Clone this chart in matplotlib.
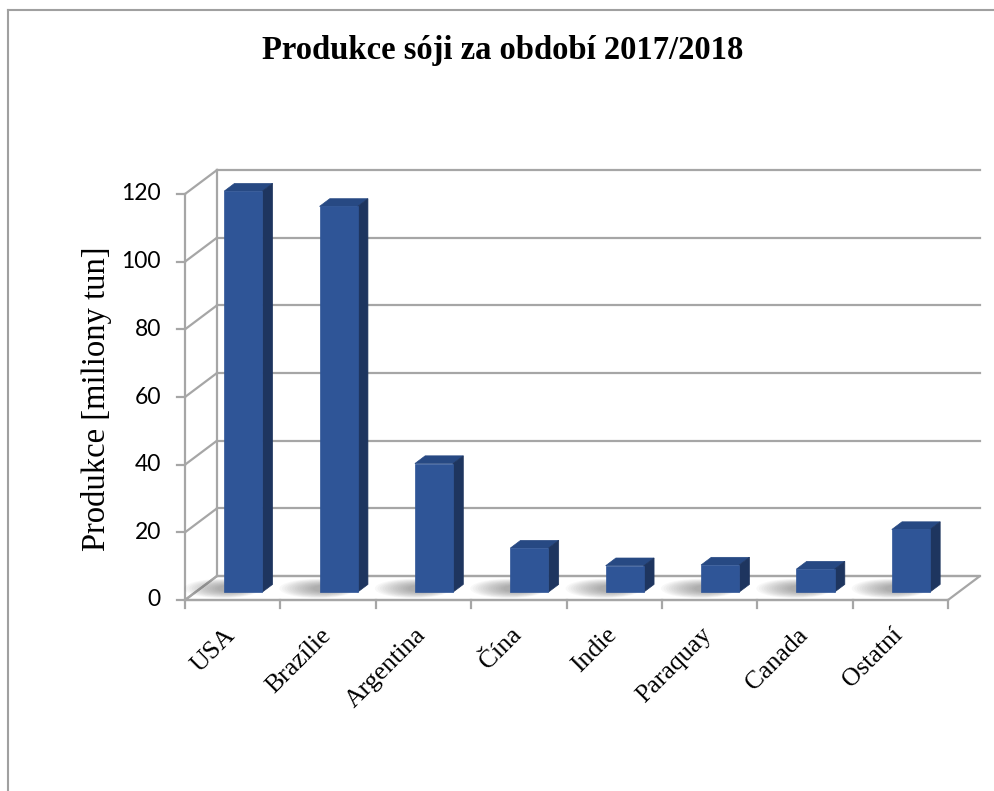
import matplotlib
matplotlib.use("Agg")
import matplotlib.pyplot as plt
from matplotlib.patches import Polygon, Ellipse
from matplotlib.lines import Line2D
import matplotlib.transforms as mtransforms

# ---- data ----
categories = ["USA", "Brazílie", "Argentina", "Čína", "Indie", "Paraquay", "Canada", "Ostatní"]
values = [118.5, 114.0, 38.0, 13.0, 7.8, 8.0, 6.8, 18.5]
yticks = [0, 20, 40, 60, 80, 100, 120]
title = "Produkce sóji za období 2017/2018"
ylabel = "Produkce [miliony tun]"

# ---- style ----
W, H = 994, 791
fig = plt.figure(figsize=(W / 100, H / 100), dpi=100)
fig.patch.set_facecolor("white")

ax_left, ax_right, ax_bottom, ax_top = 185, 948, 600, 194
ax = fig.add_axes([ax_left / W, 1 - ax_bottom / H, (ax_right - ax_left) / W, (ax_bottom - ax_top) / H])
n = len(categories)
ax.set_xlim(-0.5, n - 0.5)
ax.set_ylim(0, 120)
ax.axis("off")

px_per_cat = (ax_right - ax_left) / n
px_per_val = (ax_bottom - ax_top) / 120.0
DX = 32 / px_per_cat      # depth offset in category units
DY = 24 / px_per_val      # depth offset in value units

grid_c = "#a6a6a6"
lw_grid = 1.6
x0, x1 = -0.5, n - 0.5

# floor
floor = Polygon([(x0, 0), (x1, 0), (x1 + DX, DY), (x0 + DX, DY)], closed=True,
                facecolor="white", edgecolor=grid_c, lw=lw_grid, clip_on=False, zorder=1)
ax.add_patch(floor)

# back wall gridlines + left wall diagonals
for v in yticks:
    ax.add_line(Line2D([x0 + DX, x1 + DX], [v + DY, v + DY], color=grid_c, lw=lw_grid,
                       clip_on=False, zorder=2))
    ax.add_line(Line2D([x0, x0 + DX], [v, v + DY], color=grid_c, lw=lw_grid,
                       clip_on=False, zorder=2))
# back wall left edge
ax.add_line(Line2D([x0 + DX, x0 + DX], [DY, 120 + DY], color=grid_c, lw=lw_grid, clip_on=False, zorder=2))
# front left axis
ax.add_line(Line2D([x0, x0], [0, 120], color=grid_c, lw=lw_grid, clip_on=False, zorder=3))
# front bottom axis
ax.add_line(Line2D([x0, x1], [0, 0], color=grid_c, lw=lw_grid, clip_on=False, zorder=3))

# tick marks
tick_len_y = 8 / px_per_val
for i in range(n + 1):
    xb = x0 + i
    ax.add_line(Line2D([xb, xb], [0, -tick_len_y], color=grid_c, lw=lw_grid, clip_on=False, zorder=3))
tick_len_x = 8 / px_per_cat
for v in yticks:
    ax.add_line(Line2D([x0 - tick_len_x, x0], [v, v], color=grid_c, lw=lw_grid, clip_on=False, zorder=3))
    ax.text(x0 - 24 / px_per_cat, v, str(v), ha="right", va="center", fontsize=16.5,
            family="Lato", color="black")

# bars
d0, d1 = 0.33, 0.65
bw = 0.40
front_c = "#2f5597"
side_c = "#1e355f"
top_c = "#274983"
for i, v in enumerate(values):
    xl = i - bw / 2 + d0 * DX
    xr = xl + bw
    base = d0 * DY
    top = base + v
    dd = (d1 - d0) * DX
    dyd = (d1 - d0) * DY
    # shadow on floor (soft), spreading to the left of the bar
    for k in range(14):
        f = 1 - k / 14
        e = Ellipse((xl - 0.02 + 0.1 * (1 - f), base + 0.15 * DY),
                    width=0.25 + 0.55 * f,
                    height=(0.25 + 0.55 * f) * DY,
                    facecolor="#505050", edgecolor="none",
                    alpha=0.04, clip_on=False, zorder=4)
        ax.add_patch(e)
    ax.add_patch(Polygon([(xl, top), (xr, top), (xr + dd, top + dyd), (xl + dd, top + dyd)],
                         closed=True, facecolor=top_c, edgecolor=top_c, lw=0.5, clip_on=False, zorder=6))
    ax.add_patch(Polygon([(xr, base), (xr + dd, base + dyd), (xr + dd, top + dyd), (xr, top)],
                         closed=True, facecolor=side_c, edgecolor=side_c, lw=0.5, clip_on=False, zorder=6))
    ax.bar(i + d0 * DX, v, width=bw, bottom=base, color=front_c, edgecolor=front_c, lw=0.5,
           clip_on=False, zorder=7)

# category labels
off = mtransforms.ScaledTranslation(7 / 100, -24 / 100, fig.dpi_scale_trans)
for i, c in enumerate(categories):
    ax.text(i, 0, c, rotation=45, ha="right", va="top", fontsize=18.5,
            family="Liberation Serif", transform=ax.transData + off)

# title and y label
fig.text(503 / W, 1 - 50 / H, title, ha="center", va="center", fontsize=23.5,
         family="Liberation Serif", weight="bold")
fig.text(97 / W, 1 - 399 / H, ylabel, ha="center", va="center", rotation=90, fontsize=23.5,
         family="Liberation Serif")

# outer frame (left and top)
fig.add_artist(Line2D([8 / W, 8 / W], [0, 1 - 10 / H], color="#a0a0a0", lw=1.5, transform=fig.transFigure))
fig.add_artist(Line2D([8 / W, 1], [1 - 10 / H, 1 - 10 / H], color="#a0a0a0", lw=1.5, transform=fig.transFigure))

fig.savefig("out.png", dpi=100)
